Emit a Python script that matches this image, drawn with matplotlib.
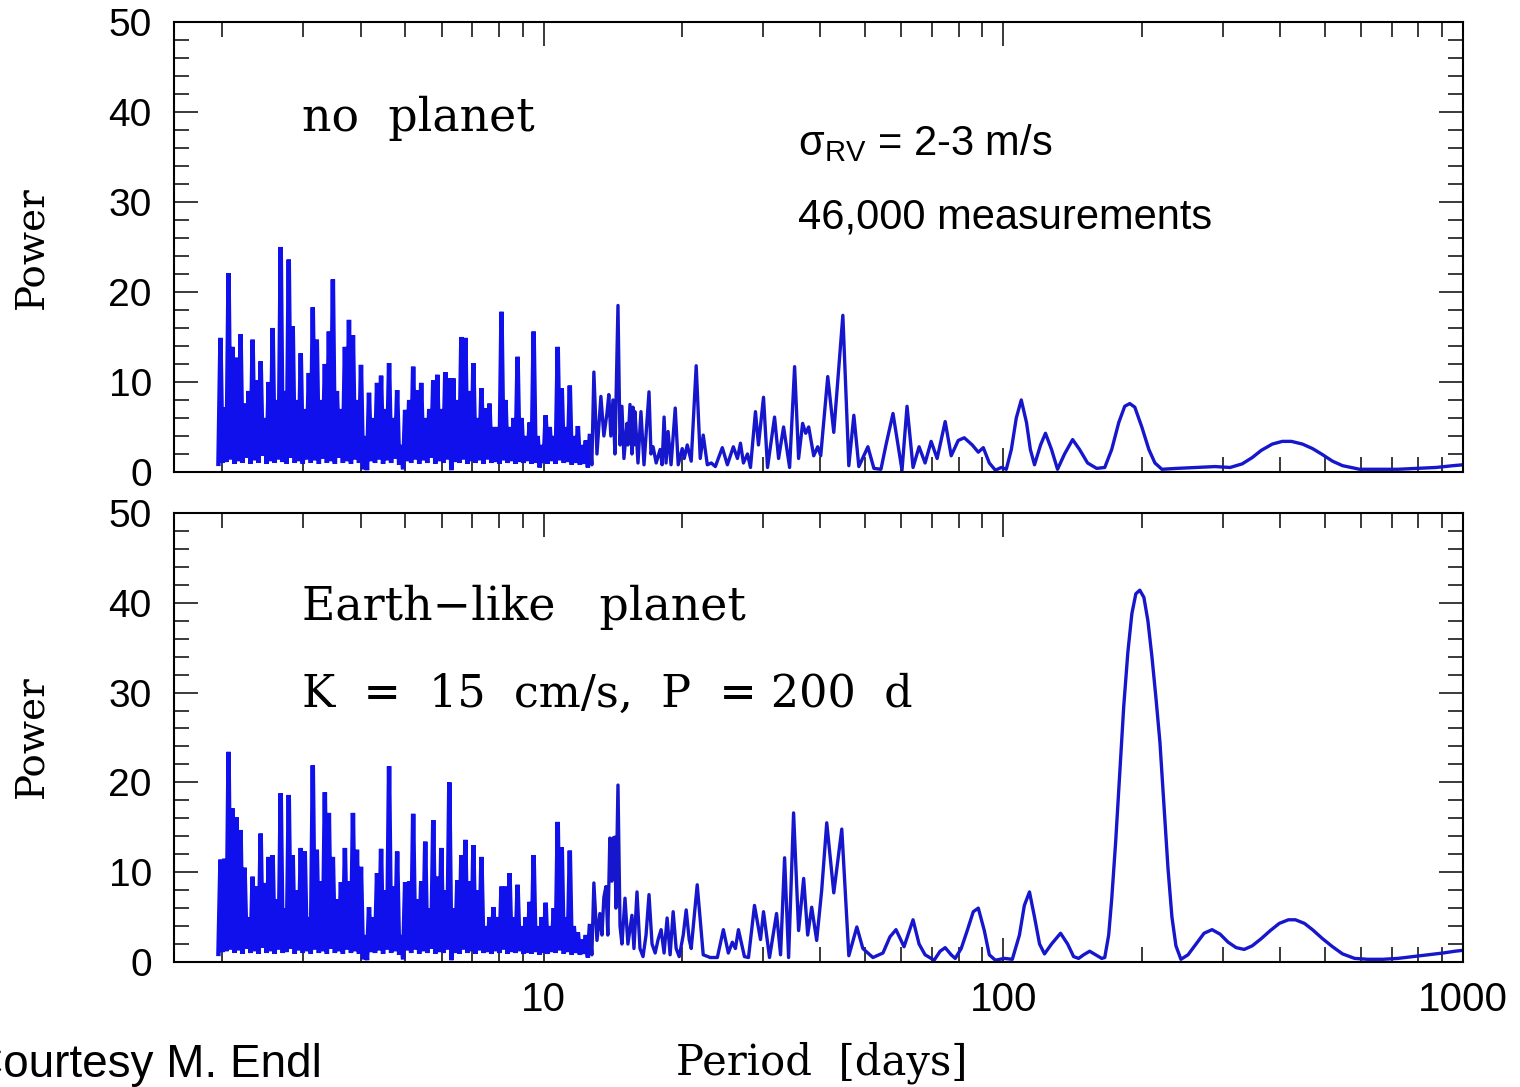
import matplotlib
matplotlib.use("Agg")
import matplotlib.pyplot as plt
from matplotlib import font_manager
from matplotlib.ticker import FixedLocator, MultipleLocator, NullFormatter

# dense short-period part, both panels share the same period grid
period_dense = [
    1.961, 1.981, 2.001, 2.021, 2.042, 2.063, 2.083, 2.104, 2.125, 2.147,
    2.169, 2.191, 2.213, 2.235, 2.258, 2.281, 2.304, 2.327, 2.351, 2.374,
    2.398, 2.423, 2.447, 2.472, 2.497, 2.522, 2.548, 2.573, 2.599, 2.626,
    2.652, 2.679, 2.706, 2.733, 2.761, 2.789, 2.817, 2.845, 2.874, 2.903,
    2.932, 2.962, 2.992, 3.022, 3.053, 3.084, 3.115, 3.146, 3.178, 3.210,
    3.243, 3.275, 3.308, 3.342, 3.376, 3.410, 3.444, 3.479, 3.514, 3.550,
    3.586, 3.622, 3.658, 3.695, 3.733, 3.771, 3.809, 3.847, 3.886, 3.925,
    3.965, 4.005, 4.045, 4.086, 4.128, 4.169, 4.211, 4.254, 4.297, 4.340,
    4.384, 4.429, 4.473, 4.519, 4.564, 4.610, 4.657, 4.704, 4.752, 4.800,
    4.848, 4.897, 4.946, 4.996, 5.047, 5.098, 5.149, 5.201, 5.254, 5.307,
    5.361, 5.415, 5.470, 5.525, 5.581, 5.638, 5.695, 5.752, 5.810, 5.869,
    5.928, 5.988, 6.048, 6.109, 6.171, 6.234, 6.297, 6.360, 6.424, 6.489,
    6.555, 6.621, 6.688, 6.756, 6.824, 6.893, 6.963, 7.033, 7.104, 7.176,
    7.249, 7.322, 7.396, 7.471, 7.546, 7.623, 7.700, 7.777, 7.856, 7.935,
    8.015, 8.096, 8.178, 8.261, 8.345, 8.429, 8.514, 8.600, 8.687, 8.775,
    8.864, 8.954, 9.043, 9.135, 9.227, 9.320, 9.415, 9.510, 9.606, 9.703,
    9.801, 9.900, 10.00, 10.10, 10.20, 10.31, 10.41, 10.52, 10.62, 10.73,
    10.84, 10.95, 11.06, 11.17, 11.28, 11.40, 11.51, 11.63, 11.75, 11.87,
    11.99, 12.11, 12.23, 12.35, 12.48, 12.60,
]

power_top_dense = [
    0.9, 14.9, 1.0, 7.2, 1.1, 22.1, 1.4, 13.9, 0.9, 12.7,
    1.2, 15.3, 1.0, 7.6, 1.6, 9.0, 0.9, 14.7, 1.3, 10.2,
    1.0, 12.3, 1.8, 6.0, 0.9, 10.0, 1.2, 16.0, 1.0, 8.0,
    1.4, 25.0, 1.1, 9.0, 0.9, 23.6, 1.6, 16.2, 1.0, 8.0,
    1.2, 13.2, 0.9, 7.0, 1.4, 11.0, 1.0, 18.3, 1.3, 14.7,
    0.9, 8.0, 1.5, 12.0, 1.0, 15.6, 1.2, 21.4, 0.9, 9.0,
    1.6, 7.0, 1.0, 13.9, 1.2, 16.9, 0.9, 15.2, 1.4, 8.0,
    1.0, 11.9, 0.3, 4.0, 0.2, 8.8, 1.2, 6.0, 1.0, 9.9,
    1.4, 10.7, 0.9, 7.0, 1.3, 12.1, 1.0, 6.0, 1.5, 9.1,
    0.8, 3.0, 0.3, 6.9, 1.2, 8.0, 1.0, 11.7, 1.4, 9.1,
    0.9, 9.9, 1.3, 6.0, 1.0, 7.0, 1.6, 10.2, 0.9, 10.8,
    1.2, 7.0, 1.0, 11.1, 1.4, 10.4, 0.2, 10.4, 1.1, 8.0,
    1.0, 15.0, 1.4, 14.9, 0.9, 9.0, 1.2, 12.1, 1.0, 6.0,
    1.3, 9.3, 0.9, 7.1, 1.4, 7.6, 1.0, 5.0, 1.1, 5.0,
    0.9, 17.8, 1.3, 8.0, 1.0, 5.0, 1.2, 6.0, 0.9, 12.8,
    1.1, 6.0, 1.0, 4.0, 1.2, 5.5, 0.9, 15.6, 1.0, 4.0,
    0.5, 3.0, 1.0, 6.3, 0.9, 5.0, 1.2, 4.0, 0.9, 13.9,
    1.3, 9.3, 1.0, 5.0, 1.1, 9.6, 0.8, 4.0, 1.0, 5.1,
    0.8, 3.0, 0.9, 3.5, 0.5, 4.0,
]

power_bottom_dense = [
    0.9, 11.4, 1.1, 11.5, 1.2, 23.4, 1.4, 17.1, 1.0, 16.1,
    1.3, 14.7, 0.9, 10.5, 1.5, 5.0, 1.0, 9.5, 1.2, 8.4,
    0.9, 14.3, 1.6, 8.8, 1.0, 11.7, 1.2, 11.9, 0.9, 7.0,
    1.4, 18.8, 1.0, 6.0, 1.1, 18.6, 1.5, 11.9, 0.9, 8.0,
    1.3, 12.7, 1.0, 12.3, 1.2, 5.0, 0.9, 21.9, 1.4, 12.5,
    1.0, 9.0, 1.2, 18.9, 0.9, 16.6, 1.5, 11.7, 1.0, 7.0,
    1.2, 8.9, 0.9, 12.7, 1.4, 9.0, 1.0, 16.6, 1.2, 12.5,
    0.9, 10.6, 0.3, 3.0, 0.2, 6.1, 1.1, 5.0, 1.0, 9.9,
    1.3, 12.6, 0.9, 8.0, 1.4, 21.8, 1.0, 8.4, 1.2, 12.3,
    0.8, 3.0, 0.3, 8.9, 1.3, 9.0, 1.0, 16.5, 1.4, 7.0,
    0.9, 9.0, 1.2, 13.4, 1.0, 6.0, 1.5, 15.8, 0.9, 9.5,
    1.1, 12.7, 1.0, 8.0, 1.4, 20.0, 0.2, 6.0, 1.0, 9.1,
    0.9, 11.9, 1.4, 13.6, 1.0, 9.0, 1.2, 13.0, 0.9, 8.0,
    1.3, 11.7, 1.0, 4.0, 1.1, 5.0, 0.9, 6.1, 1.2, 5.0,
    1.0, 8.4, 1.4, 8.4, 0.9, 9.9, 1.1, 5.0, 1.0, 8.6,
    1.2, 4.0, 0.9, 5.0, 1.0, 6.7, 0.9, 11.9, 1.1, 4.0,
    0.8, 5.0, 1.0, 6.6, 0.9, 4.0, 1.1, 6.0, 1.0, 15.6,
    1.3, 12.8, 0.9, 5.0, 1.1, 12.4, 0.8, 4.0, 1.0, 3.3,
    0.8, 2.5, 0.9, 3.0, 0.5, 4.0,
]

# longer periods, no planet
period_top_tail = [
    12.73, 12.86, 13.06, 13.32, 13.52, 13.73, 13.86, 14.00, 14.15, 14.29,
    14.51, 14.66, 14.80, 14.95, 15.18, 15.25, 15.41, 15.56, 15.64, 15.72,
    15.80, 16.04, 16.28, 16.53, 16.95, 17.12, 17.30, 17.57, 17.92, 18.10,
    18.28, 18.46, 18.65, 18.93, 19.33, 19.62, 20.02, 20.22, 20.53, 20.94,
    21.47, 21.91, 22.24, 22.70, 23.16, 23.63, 24.47, 25.10, 25.86, 26.40,
    26.80, 27.20, 27.76, 28.18, 28.89, 29.33, 30.08, 30.69, 31.79, 32.44,
    33.26, 34.28, 35.15, 35.86, 36.59, 37.16, 37.72, 38.68, 39.46, 40.06,
    41.50, 42.77, 44.76, 46.12, 47.29, 48.49, 50.74, 52.29, 54.17, 55.55,
    57.54, 60.20, 61.73, 63.62, 65.57, 67.58, 69.65, 71.78, 74.73, 77.02,
    79.77, 82.22, 84.31, 85.59, 88.21, 90.45, 93.22, 96.08, 99.02, 101.5,
    104.1, 106.7, 109.4, 112.3, 114.5, 116.9, 120.5, 123.5, 127.3, 131.2,
    135.9, 141.5, 146.5, 152.5, 159.6, 166.2, 172.1, 178.3, 183.7, 188.4,
    193.2, 200.1, 207.3, 213.7, 221.3, 238.6, 263.8, 288.8, 311.5, 330.8,
    347.9, 364.0, 384.7, 404.5, 423.3, 447.4, 470.5, 492.2, 520.2, 547.0,
    595.9, 652.4, 721.3, 797.7, 873.3, 951.1, 1000.0,
]
power_top_tail = [
    0.8, 11.1, 2.0, 8.4, 4.0, 6.5, 8.6, 4.0, 8.0, 2.0,
    18.5, 3.0, 7.3, 1.5, 5.4, 3.0, 7.5, 2.0, 7.2, 3.0,
    6.7, 1.0, 6.7, 0.8, 8.9, 2.0, 2.8, 1.0, 2.5, 0.8,
    6.1, 1.0, 4.5, 0.8, 7.1, 0.8, 2.6, 1.5, 3.0, 1.2,
    11.8, 1.5, 4.1, 0.8, 1.0, 0.6, 2.7, 0.8, 2.8, 1.5,
    3.2, 1.0, 2.0, 0.5, 6.7, 3.0, 8.3, 0.5, 6.1, 1.5,
    5.0, 0.5, 11.7, 1.5, 5.4, 4.3, 5.0, 1.8, 2.8, 1.8,
    10.6, 4.4, 17.4, 0.7, 6.3, 0.6, 2.8, 0.4, 0.3, 3.0,
    6.5, 0.2, 7.3, 0.5, 2.8, 1.0, 3.4, 1.5, 5.6, 1.8,
    3.5, 3.8, 3.3, 3.0, 2.2, 2.7, 1.0, 0.2, 0.5, 0.3,
    2.5, 6.0, 8.0, 5.5, 2.5, 0.8, 3.0, 4.3, 2.5, 0.3,
    2.0, 3.6, 2.5, 1.0, 0.4, 0.5, 2.5, 5.5, 7.3, 7.6,
    7.2, 5.0, 2.5, 1.0, 0.3, 0.4, 0.5, 0.6, 0.5, 0.9,
    1.6, 2.4, 3.1, 3.4, 3.4, 3.1, 2.6, 2.0, 1.2, 0.7,
    0.3, 0.3, 0.3, 0.4, 0.5, 0.7, 0.8,
]

# longer periods, Earth-like planet (K = 15 cm/s, P = 200 d)
period_bottom_tail = [
    12.73, 12.86, 13.06, 13.25, 13.39, 13.52, 13.66, 13.79, 13.93, 14.07,
    14.15, 14.29, 14.36, 14.51, 14.66, 14.80, 15.03, 15.25, 15.56, 15.72,
    15.96, 16.20, 16.45, 16.70, 16.95, 17.21, 17.48, 17.74, 18.01, 18.28,
    18.56, 18.84, 19.13, 19.42, 19.72, 20.12, 20.42, 20.73, 20.94, 21.58,
    22.24, 23.04, 23.87, 24.60, 25.22, 25.73, 26.13, 26.53, 27.34, 27.90,
    28.75, 29.63, 30.08, 31.00, 32.11, 32.76, 33.43, 34.11, 34.97, 35.86,
    36.78, 37.53, 38.29, 39.26, 40.26, 41.29, 42.77, 44.52, 46.12, 48.01,
    49.48, 52.03, 54.71, 56.67, 58.41, 60.81, 63.62, 65.57, 67.58, 70.71,
    72.87, 74.73, 77.02, 78.58, 80.98, 83.46, 86.02, 88.21, 90.91, 93.22,
    96.08, 100.5, 104.6, 108.4, 111.1, 114.0, 116.9, 119.9, 122.9, 127.3,
    133.2, 138.0, 142.2, 145.8, 149.5, 154.1, 158.8, 163.7, 166.2, 169.5,
    172.1, 175.6, 179.2, 182.8, 186.6, 190.4, 194.2, 198.1, 202.2, 206.3,
    210.5, 214.7, 219.1, 223.5, 228.1, 232.7, 237.4, 243.4, 252.2, 262.5,
    273.3, 284.5, 296.2, 308.4, 321.0, 334.2, 347.9, 364.0, 380.9, 398.5,
    417.0, 431.9, 451.9, 470.5, 494.7, 520.2, 547.0, 581.1, 620.3, 669.0,
    721.3, 777.9, 838.8, 904.6, 960.7, 1000.0,
]
power_bottom_tail = [
    0.8, 8.8, 2.4, 5.4, 3.0, 7.2, 8.4, 3.0, 13.8, 9.0,
    13.8, 13.9, 6.0, 19.7, 4.0, 2.0, 7.1, 2.0, 5.2, 1.5,
    7.8, 1.5, 0.6, 3.0, 7.5, 2.0, 1.0, 2.5, 3.6, 1.0,
    4.9, 0.8, 5.6, 1.5, 0.6, 3.0, 5.8, 2.5, 1.5, 8.6,
    0.8, 0.5, 0.5, 3.6, 1.0, 2.2, 1.5, 3.6, 0.6, 0.5,
    6.3, 2.5, 5.6, 0.5, 5.4, 0.8, 11.6, 0.5, 16.6, 3.5,
    9.3, 3.0, 6.1, 2.4, 8.0, 15.5, 7.7, 14.8, 0.7, 3.9,
    1.5, 0.5, 1.0, 2.8, 3.6, 1.7, 4.7, 2.0, 0.8, 0.2,
    1.2, 1.6, 0.8, 0.4, 1.5, 3.5, 5.6, 6.0, 3.5, 0.8,
    0.2, 0.4, 0.3, 3.0, 6.3, 7.8, 5.0, 2.0, 0.9, 2.0,
    3.2, 2.0, 0.6, 0.4, 0.8, 1.2, 0.8, 0.4, 0.5, 3.0,
    7.0, 13.5, 21.0, 28.5, 34.5, 38.8, 41.0, 41.4, 40.6, 38.0,
    34.0, 29.5, 24.5, 17.5, 10.5, 5.0, 1.8, 0.3, 0.8, 2.0,
    3.2, 3.6, 3.1, 2.2, 1.6, 1.4, 1.8, 2.6, 3.5, 4.3,
    4.7, 4.7, 4.3, 3.6, 2.6, 1.7, 0.9, 0.4, 0.3, 0.3,
    0.4, 0.6, 0.8, 1.0, 1.2, 1.3,
]

x_ticks = [10, 100, 1000]
x_tick_labels = ["10", "100", "1000"]
y_ticks = [0, 10, 20, 30, 40, 50]

DENSE_COLOR = "#0f10ec"
TAIL_COLOR = "#1616cc"
SERIF = ["DejaVu Serif"]
SANS = ["Liberation Sans", "DejaVu Sans"]
installed = {f.name for f in font_manager.fontManager.ttflist}
NARROW = ["Liberation Sans Narrow"] if "Liberation Sans Narrow" in installed else SANS
xlab_size = 27 if NARROW[0] == "Liberation Sans Narrow" else 29

plt.rcParams["mathtext.fontset"] = "custom"
plt.rcParams["mathtext.rm"] = "Liberation Sans"
plt.rcParams["mathtext.it"] = "Liberation Sans:italic"

fig = plt.figure(figsize=(15.2, 10.87), dpi=100)
ax_top = fig.add_axes([0.1145, 0.5658, 0.8480, 0.4140])
ax_bot = fig.add_axes([0.1145, 0.1150, 0.8480, 0.4131])

for ax, p_tail, y_dense, y_tail in [
    (ax_top, period_top_tail, power_top_dense, power_top_tail),
    (ax_bot, period_bottom_tail, power_bottom_dense, power_bottom_tail),
]:
    # the tightly packed short-period oscillations read as a solid band
    ax.plot(period_dense, y_dense, color=DENSE_COLOR, lw=3.2,
            solid_joinstyle="miter")
    ax.plot(period_dense[-1:] + p_tail, y_dense[-1:] + y_tail,
            color=TAIL_COLOR, lw=2.4)
    ax.set_xscale("log")
    ax.set_xlim(1.57, 1000)
    ax.set_ylim(0, 50)
    ax.xaxis.set_major_locator(FixedLocator(x_ticks))
    ax.xaxis.set_minor_locator(FixedLocator(
        [m * d for d in (1, 10, 100) for m in range(2, 10)]))
    ax.xaxis.set_minor_formatter(NullFormatter())
    ax.yaxis.set_major_locator(MultipleLocator(10))
    ax.yaxis.set_minor_locator(MultipleLocator(2))
    ax.set_yticks(y_ticks)
    ax.set_yticklabels([str(v) for v in y_ticks], fontfamily=SANS, fontsize=28)
    ax.tick_params(which="both", direction="in", top=True, right=True,
                   color="#3a3a3a", width=1.4)
    ax.tick_params(which="major", length=17)
    ax.tick_params(which="minor", length=11)
    ax.tick_params(axis="y", pad=16)
    for sp in ax.spines.values():
        sp.set_linewidth(1.5)

ax_top.xaxis.set_major_formatter(NullFormatter())
ax_bot.set_xticklabels(x_tick_labels, fontfamily=NARROW, fontsize=xlab_size)
ax_bot.tick_params(axis="x", pad=14)

ax_top.text(2.98, 37.9, "no  planet", fontfamily=SERIF, fontsize=33,
            va="baseline")
ax_bot.text(2.98, 38.1, "Earth\u2212like   planet", fontfamily=SERIF,
            fontsize=33, va="baseline")
ax_bot.text(2.98, 28.4, "K  =  15  cm/s,  P  = 200  d", fontfamily=SERIF,
            fontsize=32, va="baseline")

ax_top.text(35.7, 35.2, r"$\mathrm{\sigma_{RV}}$ = 2-3 m/s", fontfamily=SANS,
            fontsize=30, va="baseline")
ax_top.text(35.7, 27.0, "46,000 measurements", fontfamily=SANS, fontsize=30,
            va="baseline")

for yc in (1 - 248 / 1087, 1 - 737 / 1087):
    fig.text(32 / 1520, yc, "Power", fontfamily=SERIF, fontsize=28,
             rotation=90, ha="center", va="center")
fig.text(822 / 1520, 1 - 1075 / 1087, "Period  [days]", fontfamily=SERIF,
         fontsize=30, ha="center", va="baseline")
# the reference crops the leading "C" at the left edge
fig.text(322 / 1520, 1 - 1077 / 1087, "Courtesy M. Endl", fontfamily=SANS,
         fontsize=33, ha="right", va="baseline")

fig.savefig("out.png", dpi=100)
